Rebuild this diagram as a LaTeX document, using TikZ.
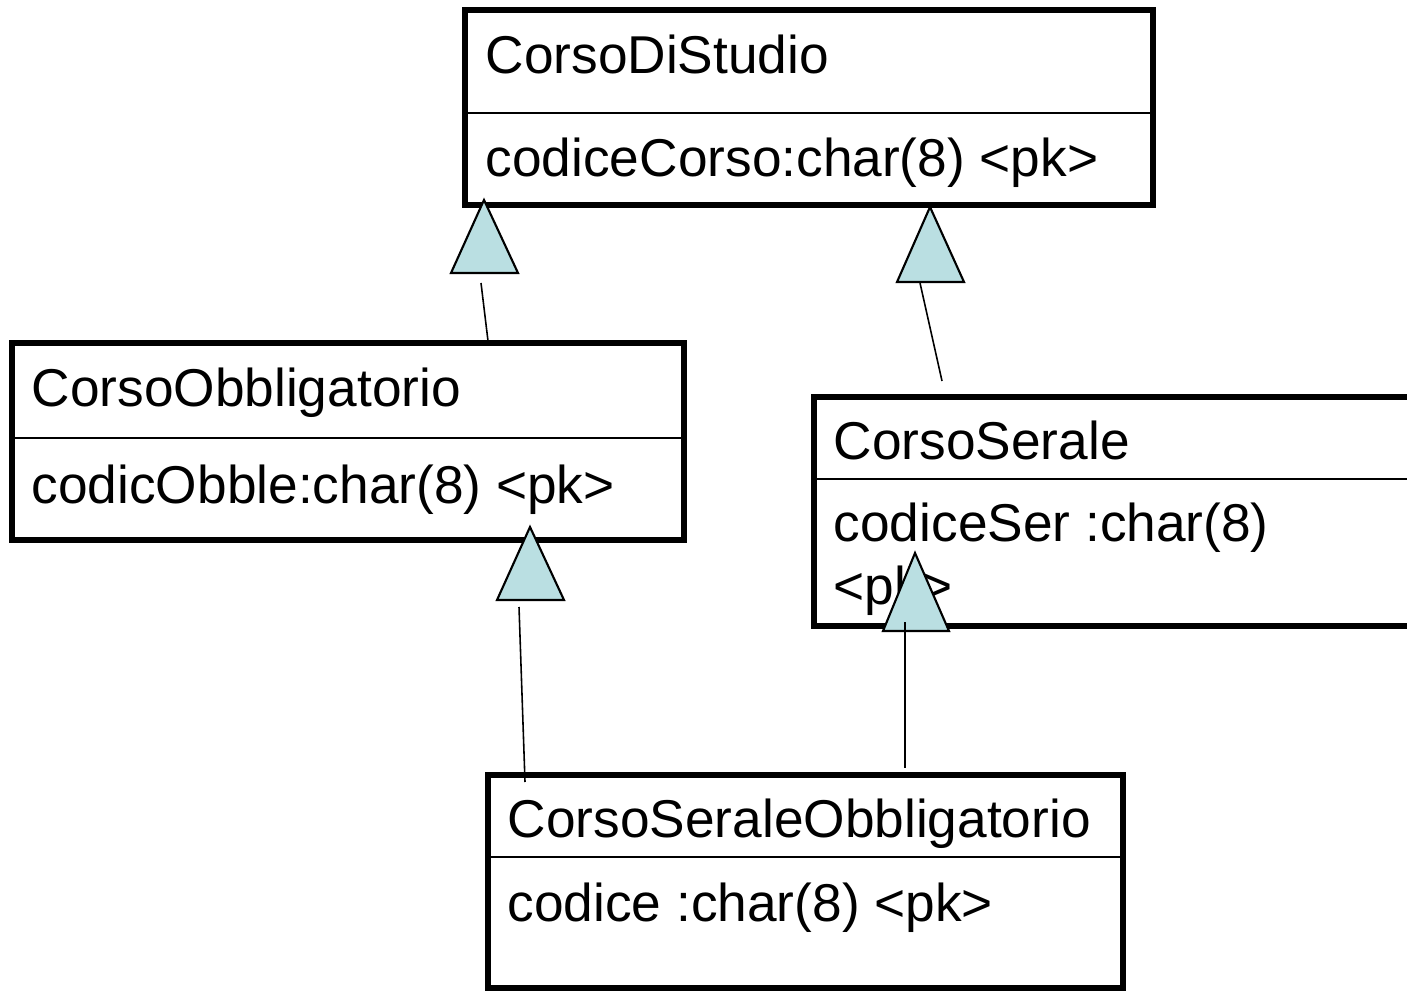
\documentclass[tikz,border=0pt]{standalone}
\usepackage{fontspec}
\setmainfont{Liberation Sans}
\usetikzlibrary{positioning}

\definecolor{genfill}{RGB}{186,223,226}

\begin{document}
\begin{tikzpicture}[cls/.style={draw,line width=1.5pt,anchor=north west,inner sep=0pt,outer sep=0pt},
    divider/.style={line width=0.45pt},
    txt/.style={anchor=base west,inner sep=0pt,font=\fontsize{15.15}{18}\selectfont},
    gen/.style={draw,line width=0.6pt,fill=genfill,line join=miter},
    link/.style={draw,line width=0.45pt}]
    \clip (0,0) rectangle (14.07,9.90);

    \node[cls,minimum width=6.88cm,minimum height=1.95cm] (studio) at (4.65,9.80) {};
    \node[cls,minimum width=6.72cm,minimum height=1.97cm] (obbl) at (0.12,6.47) {};
    \node[cls,minimum width=6.20cm,minimum height=2.29cm] (serale) at (8.14,5.93) {};
    \node[cls,minimum width=6.35cm,minimum height=2.13cm] (seob) at (4.88,2.15) {};

    \draw[divider] ([yshift=-1.03cm]studio.north west) -- ([yshift=-1.03cm]studio.north east);
    \draw[divider] ([yshift=-0.95cm]obbl.north west) -- ([yshift=-0.95cm]obbl.north east);
    \draw[divider] ([yshift=-0.82cm]serale.north west) -- ([yshift=-0.82cm]serale.north east);
    \draw[divider] ([yshift=-0.82cm]seob.north west) -- ([yshift=-0.82cm]seob.north east);

    \node[txt] (studioname) at (4.85,9.16) {CorsoDiStudio};
    \node[txt] (studioattr) at (4.85,8.13) {codiceCorso:char(8) <pk>};
    \node[txt] (obblname) at (0.31,5.83) {CorsoObbligatorio};
    \node[txt] (obblattr) at (0.31,4.86) {codicObble:char(8) <pk>};
    \node[txt] (seralename) at (8.33,5.31) {CorsoSerale};
    \node[txt] (seraleattr) at (8.33,4.48) {codiceSer :char(8)};
    \node[txt] (seralepk) at (8.33,3.86) {<pk>};
    \node[txt] (seobname) at (5.07,1.53) {CorsoSeraleObbligatorio};
    \node[txt] (seobattr) at (5.07,0.69) {codice :char(8) <pk>};

    % generalisation heads
    \draw[gen] (4.84,7.90) -- (4.51,7.17) -- (5.18,7.17) -- cycle;
    \draw[gen] (9.30,7.83) -- (8.97,7.08) -- (9.64,7.08) -- cycle;
    \draw[gen] (5.30,4.63) -- (4.97,3.90) -- (5.64,3.90) -- cycle;
    \draw[gen] (9.15,4.37) -- (8.83,3.59) -- (9.49,3.59) -- cycle;

    \coordinate (obblup) at (4.81,7.07);
    \coordinate (obbltop) at (4.88,6.49);
    \coordinate (seraleup) at (9.20,7.07);
    \coordinate (seraletop) at (9.42,6.09);
    \coordinate (seobleft) at (5.19,3.83);
    \coordinate (seobtopl) at (5.25,2.08);
    \coordinate (seobright) at (9.05,3.68);
    \coordinate (seobtopr) at (9.05,2.22);

    \draw[link] (obblup) -- (obbltop);
    \draw[link] (seraleup) -- (seraletop);
    \draw[link] (seobleft) -- (seobtopl);
    \draw[link] (seobright) -- (seobtopr);
\end{tikzpicture}
\end{document}
